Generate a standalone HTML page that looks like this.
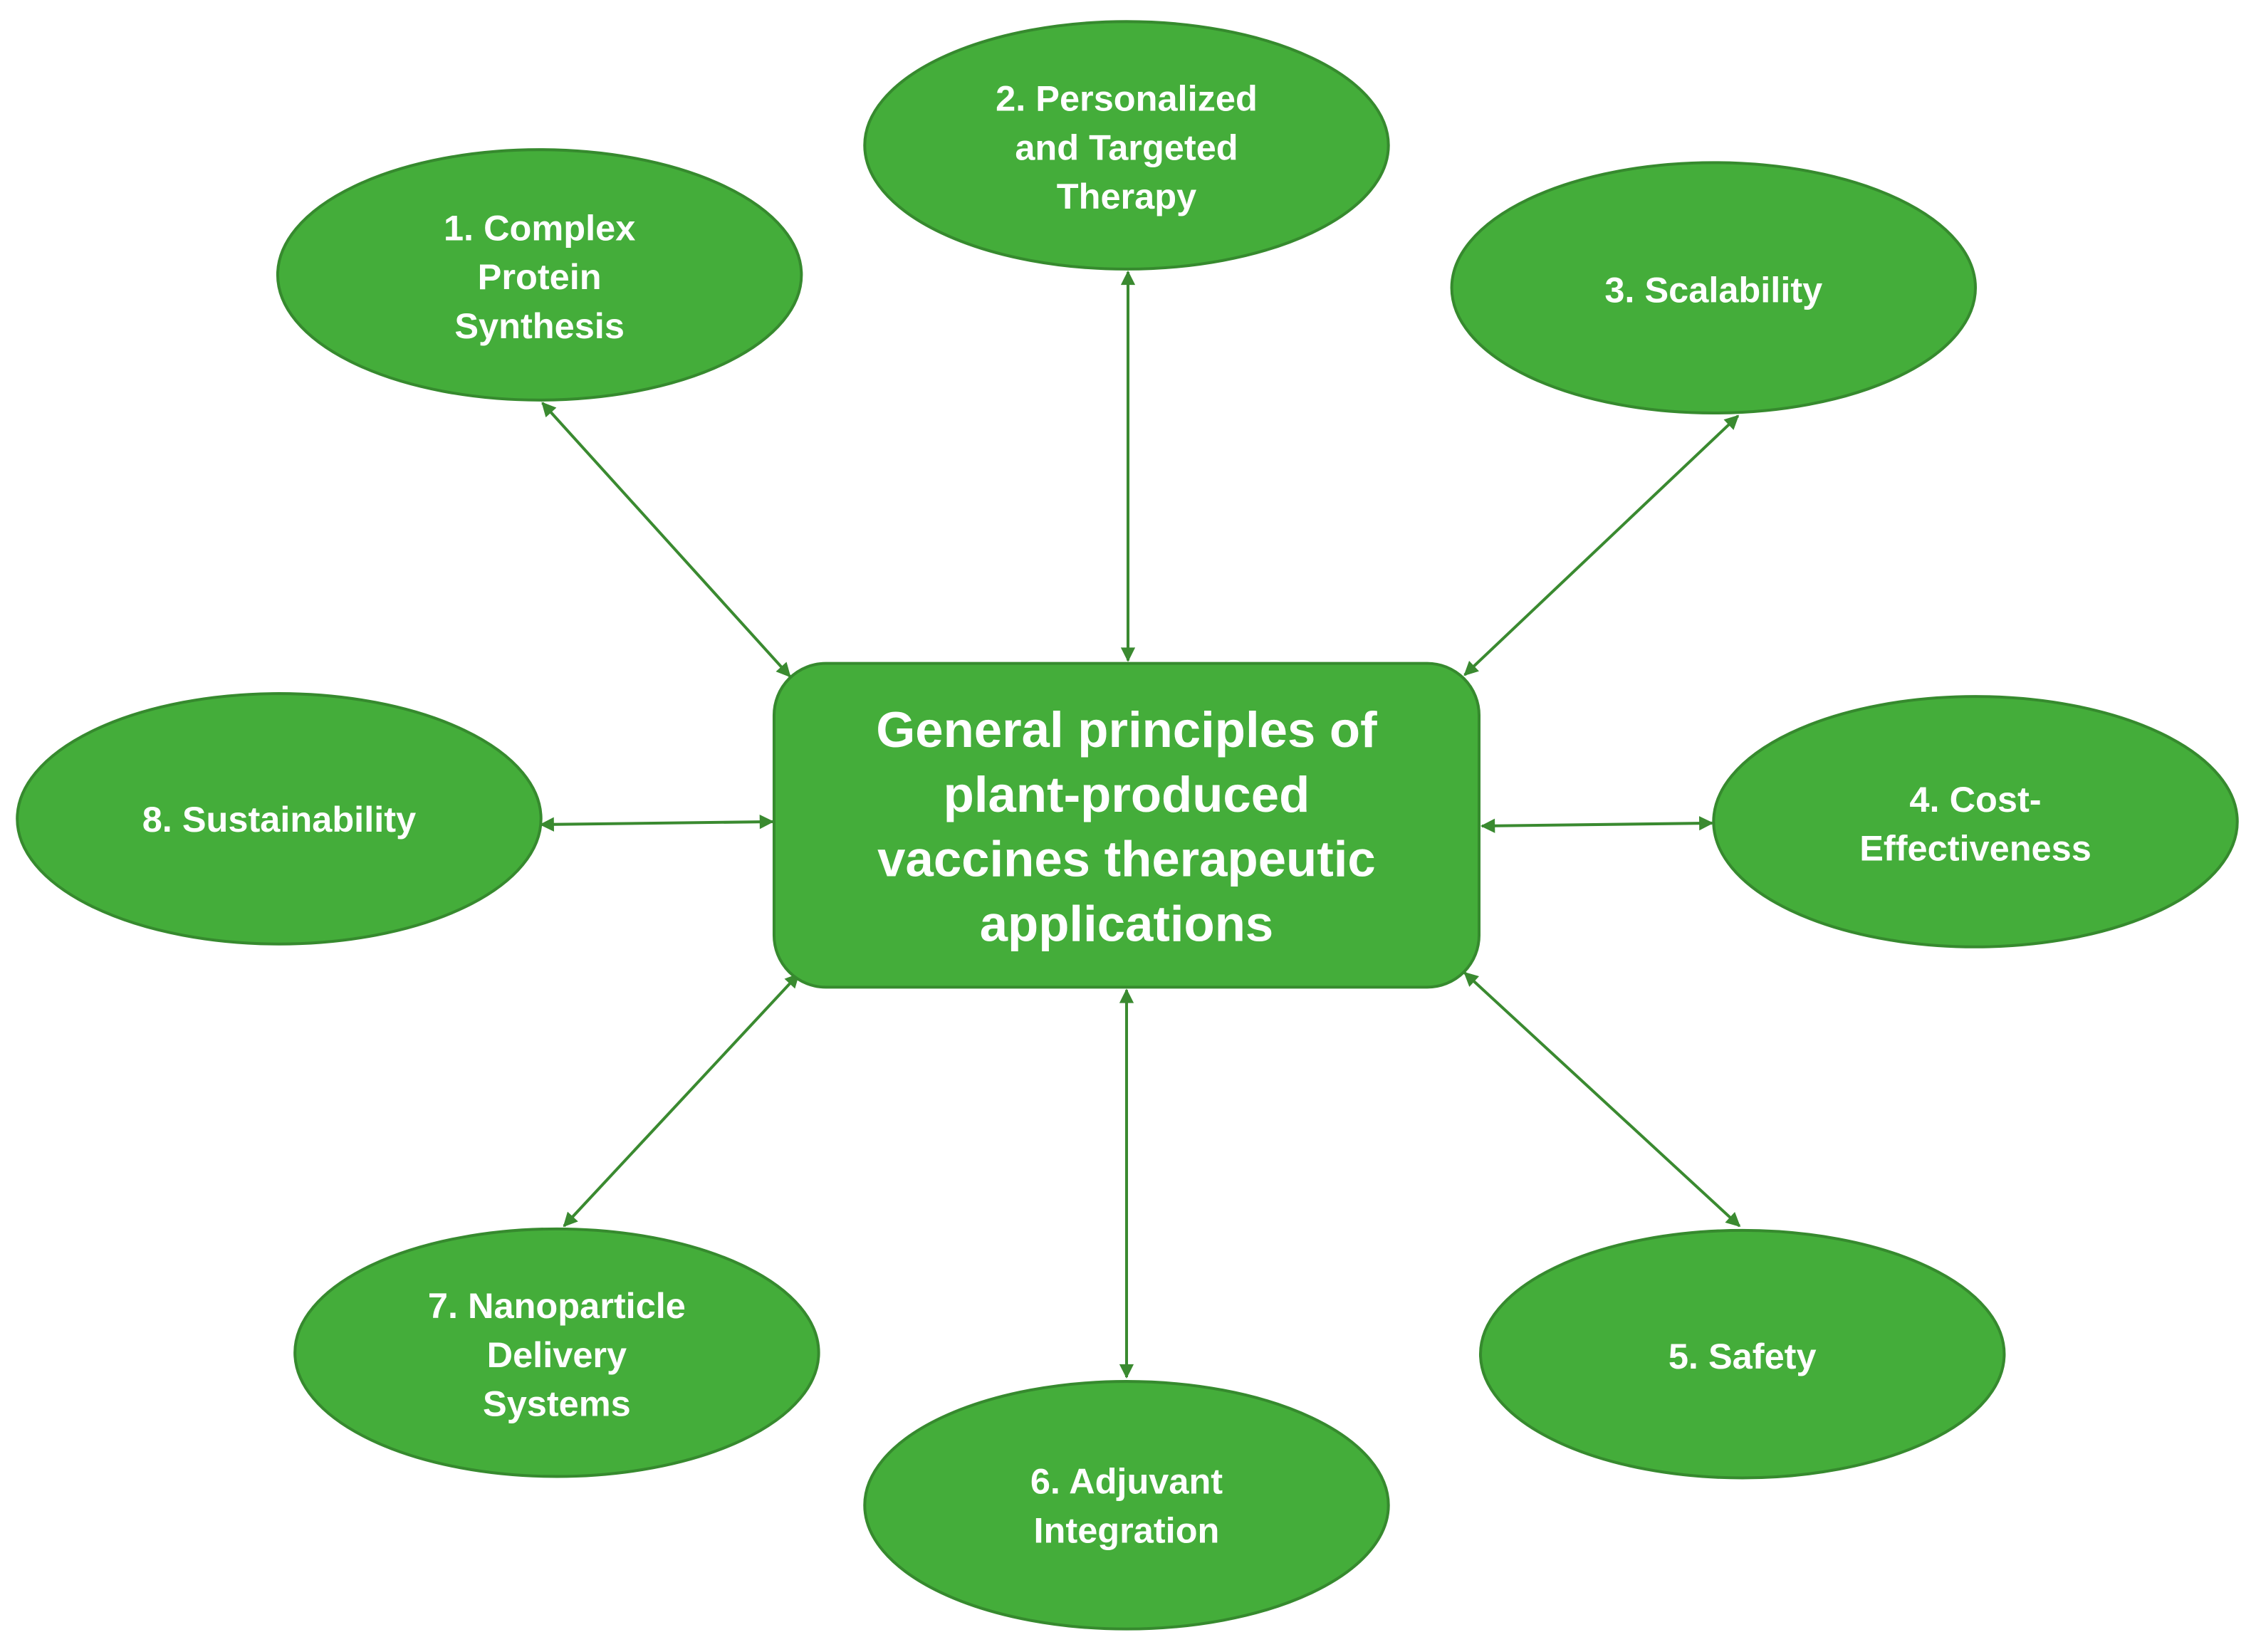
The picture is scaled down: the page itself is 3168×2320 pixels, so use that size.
<!DOCTYPE html>
<html><head><meta charset="utf-8"><style>
html,body{margin:0;padding:0;background:#fff;}
svg{display:block;}
text{font-family:"Liberation Sans",Arial,sans-serif;font-weight:bold;fill:#fff;text-anchor:middle;}
</style></head><body>
<svg width="3168" height="2320" viewBox="0 0 1568 1148" preserveAspectRatio="none">
<defs>
<marker id="a" viewBox="0 0 10 10" refX="9" refY="5" markerWidth="6" markerHeight="6" orient="auto-start-reverse" markerUnits="userSpaceOnUse"><path d="M0,0 L10,5 L0,10 z" fill="#3a8a30" transform="scale(1)"/></marker>
<marker id="b" viewBox="0 0 10 10" refX="9" refY="5" markerWidth="12" markerHeight="10" orient="auto-start-reverse" markerUnits="userSpaceOnUse"><path d="M0,0 L10,5 L0,10 z" fill="#3a8a30"/></marker>
</defs>
<g stroke="#3a8a30" stroke-width="2" marker-start="url(#b)" marker-end="url(#b)">
<line x1="377" y1="280" x2="549" y2="470"/>
<line x1="784" y1="189" x2="784" y2="459"/>
<line x1="1208" y1="289" x2="1018" y2="469"/>
<line x1="1030" y1="574" x2="1190" y2="572"/>
<line x1="1018" y1="676" x2="1209" y2="852"/>
<line x1="783" y1="688" x2="783" y2="957"/>
<line x1="555" y1="677" x2="392" y2="852"/>
<line x1="376" y1="573" x2="537" y2="571"/>
</g>
<g fill="#44ad3a" stroke="#368a2e" stroke-width="2">
<rect x="538" y="461" width="490" height="225" rx="36"/>
<ellipse cx="375" cy="191" rx="182" ry="87"/>
<ellipse cx="783" cy="101" rx="182" ry="86"/>
<ellipse cx="1191" cy="200" rx="182" ry="87"/>
<ellipse cx="1373" cy="571" rx="182" ry="87"/>
<ellipse cx="1211" cy="941" rx="182" ry="86"/>
<ellipse cx="783" cy="1046" rx="182" ry="86"/>
<ellipse cx="387" cy="940" rx="182" ry="86"/>
<ellipse cx="194" cy="569" rx="182" ry="87"/>
</g>
<g font-size="35">
<text x="783" y="519">General principles of</text>
<text x="783" y="564">plant-produced</text>
<text x="783" y="609">vaccines therapeutic</text>
<text x="783" y="654">applications</text>
</g>
<g font-size="25">
<text x="375" y="167">1. Complex</text><text x="375" y="201">Protein</text><text x="375" y="235">Synthesis</text>
<text x="783" y="77">2. Personalized</text><text x="783" y="111">and Targeted</text><text x="783" y="145">Therapy</text>
<text x="1191" y="210">3. Scalability</text>
<text x="1373" y="564">4. Cost-</text><text x="1373" y="598">Effectiveness</text>
<text x="1211" y="951">5. Safety</text>
<text x="783" y="1038">6. Adjuvant</text><text x="783" y="1072">Integration</text>
<text x="387" y="916">7. Nanoparticle</text><text x="387" y="950">Delivery</text><text x="387" y="984">Systems</text>
<text x="194" y="578">8. Sustainability</text>
</g>
</svg>
</body></html>
